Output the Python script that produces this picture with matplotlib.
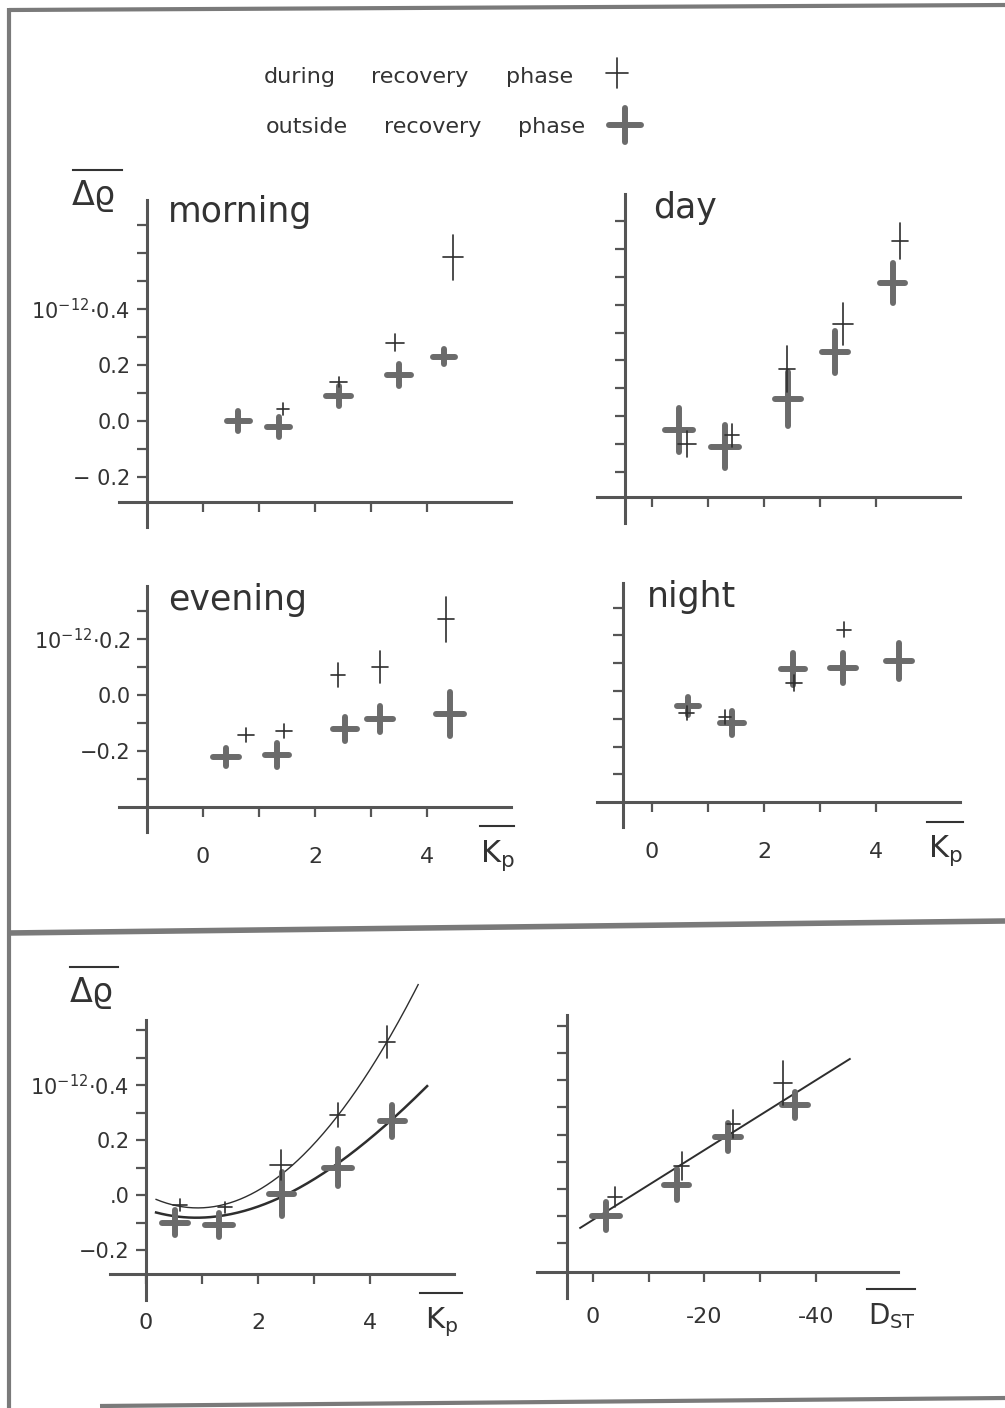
import numpy as np
import matplotlib
matplotlib.use('Agg')
import matplotlib.pyplot as plt

W, H = 1005, 1408
plt.rcParams['font.family'] = ['DejaVu Sans']
plt.rcParams['mathtext.default'] = 'regular'

INK = '#333333'
THIN = '#2e2e2e'
THICK = '#6b6b6b'
AXC = '#555555'

# ---------------- data ----------------
# morning
kp_out_mor = [0.63, 1.35, 2.42, 3.50, 4.30]
dr_out_mor = [0.00, -0.02, 0.09, 0.165, 0.23]
ekp_out_mor = [0.21, 0.20, 0.23, 0.22, 0.20]
edr_out_mor = [0.036, 0.036, 0.036, 0.040, 0.027]
kp_rec_mor = [1.43, 2.42, 3.43, 4.47]
dr_rec_mor = [0.043, 0.14, 0.28, 0.585]
ekp_rec_mor = [0.11, 0.16, 0.16, 0.18]
edr_rec_mor = [0.021, 0.018, 0.029, 0.080]

# day
kp_out_day = [0.48, 1.30, 2.43, 3.27, 4.30]
dr_out_day = [-0.05, -0.11, 0.06, 0.23, 0.48]
ekp_out_day = [0.25, 0.25, 0.23, 0.23, 0.22]
edr_out_day = [0.079, 0.076, 0.097, 0.076, 0.072]
kp_rec_day = [0.63, 1.43, 2.41, 3.41, 4.43]
dr_rec_day = [-0.10, -0.07, 0.17, 0.33, 0.63]
ekp_rec_day = [0.16, 0.13, 0.14, 0.18, 0.14]
edr_rec_day = [0.047, 0.040, 0.083, 0.076, 0.065]

# evening
kp_out_eve = [0.41, 1.32, 2.54, 3.16, 4.41]
dr_out_eve = [-0.22, -0.215, -0.12, -0.087, -0.067]
ekp_out_eve = [0.23, 0.21, 0.21, 0.23, 0.25]
edr_out_eve = [0.032, 0.043, 0.043, 0.046, 0.079]
kp_rec_eve = [0.77, 1.45, 2.41, 3.16, 4.34]
dr_rec_eve = [-0.143, -0.13, 0.07, 0.10, 0.27]
ekp_rec_eve = [0.14, 0.14, 0.13, 0.14, 0.14]
edr_rec_eve = [0.025, 0.025, 0.043, 0.057, 0.079]

# night
kp_out_nig = [0.64, 1.43, 2.52, 3.41, 4.41]
dr_out_nig = [-0.054, -0.115, 0.08, 0.083, 0.108]
ekp_out_nig = [0.20, 0.22, 0.22, 0.23, 0.23]
edr_out_nig = [0.032, 0.043, 0.058, 0.054, 0.065]
kp_rec_nig = [0.62, 1.30, 2.54, 3.43]
dr_rec_nig = [-0.08, -0.093, 0.03, 0.22]
ekp_rec_nig = [0.13, 0.11, 0.14, 0.13]
edr_rec_nig = [0.025, 0.025, 0.029, 0.027]

# all day, against Kp
kp_out_all = [0.52, 1.30, 2.42, 3.42, 4.40]
dr_out_all = [-0.10, -0.11, 0.005, 0.10, 0.27]
ekp_out_all = [0.23, 0.25, 0.23, 0.25, 0.22]
edr_out_all = [0.045, 0.044, 0.080, 0.069, 0.058]
kp_rec_all = [0.61, 1.41, 2.41, 3.42, 4.30]
dr_rec_all = [-0.035, -0.045, 0.11, 0.29, 0.556]
ekp_rec_all = [0.125, 0.125, 0.20, 0.14, 0.14]
edr_rec_all = [0.022, 0.020, 0.055, 0.044, 0.058]

# fitted curves
curve_rec_kp = [0.18, 0.61, 1.09, 1.45, 1.86, 2.39, 2.875, 3.41, 3.95, 4.30, 4.71, 4.86]
curve_rec_dr = [-0.015, -0.036, -0.047, -0.044, -0.007, 0.080, 0.175, 0.291, 0.429, 0.538, 0.709, 0.775]
curve_out_kp = [0.18, 0.79, 1.375, 1.86, 2.39, 2.98, 3.46, 4.05, 4.41, 5.02]
curve_out_dr = [-0.062, -0.080, -0.084, -0.055, 0.0, 0.062, 0.116, 0.211, 0.273, 0.40]

# all day, against Dst
dst_out = [-2.3, -15.0, -24.2, -36.3]
dr_out_dst = [-0.10, 0.015, 0.19, 0.31]
edst_out = [2.5, 2.3, 2.3, 2.3]
edr_out_dst = [0.051, 0.057, 0.051, 0.048]
dst_rec = [-4.0, -15.9, -25.2, -34.1]
dr_rec_dst = [-0.03, 0.085, 0.24, 0.39]
edst_rec = [1.26, 1.35, 1.17, 1.60]
edr_rec_dst = [0.037, 0.051, 0.051, 0.081]
line_dst = [2.3, -46.1]
line_dr = [-0.143, 0.478]

# ---------------- figure ----------------
fig = plt.figure(figsize=(W / 100, H / 100), dpi=100)
bg = fig.add_axes([0, 0, 1, 1])
bg.set_xlim(0, W)
bg.set_ylim(H, 0)
bg.axis('off')

# scanned page frame and separator
for xs, ys, lw in [([9, 9], [8, 1408], 3.0), ([9, 1005], [10, 5], 3.0),
                   ([9, 1005], [933, 921], 4.0), ([100, 1005], [1406, 1398], 3.0)]:
    bg.plot(xs, ys, color='#7a7a7a', lw=lw, solid_capstyle='butt')


def panel(box, x0, sx, y0, sy):
    L, R, T, B = box
    ax = fig.add_axes([L / W, 1 - B / H, (R - L) / W, (B - T) / H])
    ax.set_xlim((L - x0) / sx, (R - x0) / sx)
    ax.set_ylim((y0 - B) / sy, (y0 - T) / sy)
    ax.patch.set_alpha(0)
    ax.spines['top'].set_visible(False)
    ax.spines['right'].set_visible(False)
    return ax


def frame(ax, xsp, ysp, xb, yb, xt, xl, yt, yl, xpad=20):
    ax.spines['left'].set_position(('data', xsp))
    ax.spines['bottom'].set_position(('data', ysp))
    ax.spines['left'].set_bounds(*yb)
    ax.spines['bottom'].set_bounds(*xb)
    for s in ['left', 'bottom']:
        ax.spines[s].set_color(AXC)
        ax.spines[s].set_linewidth(2.2)
    ax.set_xticks(xt, xl)
    ax.set_yticks(yt, yl)
    ax.tick_params(direction='out', length=7, width=1.6, color=AXC, labelcolor=INK)
    ax.tick_params(axis='y', labelsize=15, pad=5)
    ax.tick_params(axis='x', labelsize=16, pad=xpad)


def crosses(ax, x, y, xe, ye, thick):
    if thick:
        lw, c, z = 4.3, THICK, 3
    else:
        lw, c, z = 1.2, THIN, 4
    eb = ax.errorbar(x, y, xerr=xe, yerr=ye, fmt='none', ecolor=c,
                     elinewidth=lw, capsize=0, zorder=z)
    for lc in eb[2]:
        lc.set_capstyle('round')
        lc.set_clip_on(False)


yt7 = [-0.2, -0.1, 0.0, 0.1, 0.2, 0.3, 0.4, 0.5, 0.6, 0.7]
yt3 = [-0.3, -0.2, -0.1, 0.0, 0.1, 0.2, 0.3]
yt6 = [-0.2, -0.1, 0.0, 0.1, 0.2, 0.3, 0.4, 0.5, 0.6]
kpt = [0, 1, 2, 3, 4]
p12 = '$10^{-12}$\u00b7'

# morning
ax = panel((100, 525, 185, 545), 203, 56, 421, 280)
frame(ax, -1.0, -0.29, (-1.5, 5.5), (-0.38, 0.79), kpt, [''] * 5, yt7,
      ['\u2212 0.2', '', '0.0', '', '0.2', '', p12 + '0.4', '', '', ''])
crosses(ax, kp_out_mor, dr_out_mor, ekp_out_mor, edr_out_mor, True)
crosses(ax, kp_rec_mor, dr_rec_mor, ekp_rec_mor, edr_rec_mor, False)

# day
ax = panel((570, 980, 185, 545), 652, 56, 416, 278)
frame(ax, -0.48, -0.29, (-0.98, 5.5), (-0.385, 0.80), kpt, [''] * 5, yt7, [''] * 10)
crosses(ax, kp_out_day, dr_out_day, ekp_out_day, edr_out_day, True)
crosses(ax, kp_rec_day, dr_rec_day, ekp_rec_day, edr_rec_day, False)

# evening
ax = panel((100, 525, 570, 840), 203, 56, 695, 280)
frame(ax, -1.0, -0.40, (-1.5, 5.5), (-0.49, 0.39), kpt, ['0', '', '2', '', '4'], yt3,
      ['', '\u22120.2', '', '0.0', '', p12 + '0.2', ''], xpad=22)
crosses(ax, kp_out_eve, dr_out_eve, ekp_out_eve, edr_out_eve, True)
crosses(ax, kp_rec_eve, dr_rec_eve, ekp_rec_eve, edr_rec_eve, False)

# night
ax = panel((570, 980, 570, 840), 652, 56, 691, 278)
frame(ax, -0.52, -0.40, (-0.98, 5.5), (-0.49, 0.39), kpt, ['0', '', '2', '', '4'], yt3,
      [''] * 7, xpad=22)
crosses(ax, kp_out_nig, dr_out_nig, ekp_out_nig, edr_out_nig, True)
crosses(ax, kp_rec_nig, dr_rec_nig, ekp_rec_nig, edr_rec_nig, False)

# all day vs Kp, with fitted curves
ax = panel((90, 470, 970, 1310), 146, 56, 1195, 275)
frame(ax, 0.0, -0.287, (-0.64, 5.5), (-0.38, 0.636), kpt, ['0', '', '2', '', '4'], yt6,
      ['\u22120.2', '', '.0', '', '0.2', '', p12 + '0.4', '', ''], xpad=21)
for cx, cy, lw in [(curve_rec_kp, curve_rec_dr, 1.0), (curve_out_kp, curve_out_dr, 1.8)]:
    coef = np.polyfit(cx, cy, 3)
    xx = np.linspace(min(cx), max(cx), 200)
    ax.plot(xx, np.polyval(coef, xx), color=THIN, lw=lw, clip_on=False, zorder=2)
crosses(ax, kp_out_all, dr_out_all, ekp_out_all, edr_out_all, True)
crosses(ax, kp_rec_all, dr_rec_all, ekp_rec_all, edr_rec_all, False)

# all day vs Dst, with regression line
ax = panel((520, 910, 1000, 1310), 593, -5.57, 1189, 272)
frame(ax, 4.7, -0.305, (10.0, -54.8), (-0.40, 0.64), [0, -10, -20, -30, -40],
      ['0', '', '-20', '', '-40'], yt6, [''] * 9, xpad=18)
ax.plot(line_dst, line_dr, color=THIN, lw=1.4, zorder=2)
crosses(ax, dst_out, dr_out_dst, edst_out, edr_out_dst, True)
crosses(ax, dst_rec, dr_rec_dst, edst_rec, edr_rec_dst, False)

# ---------------- texts in page pixels ----------------
for s, x, y in [('morning', 168, 222), ('day', 653, 218),
                ('evening', 168, 610), ('night', 647, 607)]:
    bg.text(x, y, s, fontsize=25, color=INK, va='baseline', ha='left')

for x, y, x0, x1, yo in [(72, 205, 73, 122, 170), (70, 1002, 70, 118, 967)]:
    bg.text(x, y, '\u0394\u03f1', fontsize=24, color=INK, va='baseline', ha='left')
    bg.plot([x0, x1], [yo, yo], color=INK, lw=1.5)

for s, x, y, x0, x1, yo, fs in [('$K_p$', 480, 862, 480, 514, 826, 22),
                                ('$K_p$', 928, 857, 927, 963, 822, 22),
                                ('$K_p$', 425, 1328, 420, 462, 1293, 21),
                                ('$D_{ST}$', 868, 1324, 867, 915, 1289, 20)]:
    bg.text(x, y, s, fontsize=fs, color=INK, va='baseline', ha='left')
    bg.plot([x0, x1], [yo, yo], color=INK, lw=1.5)

# legend
for s, x, y in [('during', 300, 83), ('recovery', 420, 83), ('phase', 540, 83),
                ('outside', 307, 133), ('recovery', 433, 133), ('phase', 552, 133)]:
    bg.text(x, y, s, fontsize=16, color=INK, va='baseline', ha='center')
crosses(bg, [617], [73], [11], [15], False)
crosses(bg, [625], [125], [16], [17], True)

fig.savefig('out.png', dpi=100)
